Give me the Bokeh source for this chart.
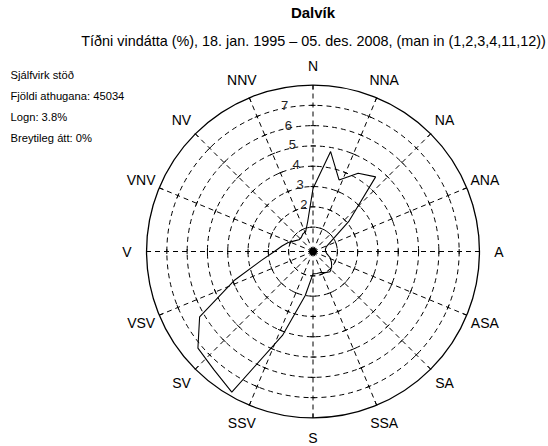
import numpy as np
from bokeh.plotting import figure
from bokeh.models import Range1d, Label
from bokeh.embed import file_html
from bokeh.resources import INLINE

# ---- data ----
directions_deg = [i * 10 for i in range(36)]
freq_pct = [2.9, 4.8, 3.55, 4.25, 4.6, 2.1, 0.85, 0.5, 0.42, 0.42, 0.5, 0.7,
            0.85, 1.0, 1.1, 1.0, 0.9, 0.9, 0.9, 2.0, 4.2, 7.8, 7.4, 7.2,
            6.25, 3.9, 2.4, 1.7, 1.35, 1.1, 0.85, 0.7, 0.7, 0.8, 0.85, 1.3]
compass_labels = ["N", "NNA", "NA", "ANA", "A", "ASA", "SA", "SSA",
                  "S", "SSV", "SV", "VSV", "V", "VNV", "NV", "NNV"]
ring_values = [1, 2, 3, 4, 5, 6, 7]
ring_labels = ["", "2", "3", "4", "5", "6", "7"]
outer_value = 8
title_text = "Dalvík"
subtitle_text = "Tíðni vindátta (%), 18. jan. 1995 – 05. des. 2008, (man in (1,2,3,4,11,12))"
info_lines = ["Sjálfvirk stöð", "Fjöldi athugana: 45034", "Logn: 3.8%", "Breytileg átt: 0%"]

# ---- layout ----
W, H = 548, 446
K = 20.3          # pixels per percent
OFF = 0.2         # inner offset (calm circle) in percent units
CX, CY = 312.5, 251.0   # centre in figure pixels (from top-left)
FONT = "Liberation Sans"

p = figure(width=W, height=H, output_backend="svg", toolbar_location=None,
           x_range=Range1d(-CX / K, (W - CX) / K),
           y_range=Range1d(-(H - CY) / K, CY / K),
           min_border=0)
p.axis.visible = False
p.grid.visible = False
p.outline_line_color = None
p.background_fill_color = "white"
p.border_fill_color = "white"

def polar(v, deg):
    t = np.deg2rad(np.asarray(deg, dtype=float))
    r = OFF + np.asarray(v, dtype=float)
    return r * np.sin(t), r * np.cos(t)

spoke_deg = np.arange(16) * 22.5
R_out = OFF + outer_value

# dashed spokes
sx, sy = polar(np.full(16, outer_value), spoke_deg)
p.segment(x0=np.zeros(16), y0=np.zeros(16), x1=sx, y1=sy,
          line_color="black", line_width=1, line_dash="5 4")

# dashed rings
p.circle(x=np.zeros(len(ring_values)), y=np.zeros(len(ring_values)),
         radius=OFF + np.array(ring_values, dtype=float),
         fill_color=None, line_color="black", line_width=1, line_dash="5 4")

# small ticks on the spokes at each ring
tl = 2.5 / K
tx0, ty0, tx1, ty1 = [], [], [], []
for d in spoke_deg:
    t = np.deg2rad(d)
    for v in ring_values:
        r = OFF + v
        x, y = r * np.sin(t), r * np.cos(t)
        px, py = np.cos(t), -np.sin(t)
        tx0.append(x - tl * px); ty0.append(y - tl * py)
        tx1.append(x + tl * px); ty1.append(y + tl * py)
p.segment(x0=tx0, y0=ty0, x1=tx1, y1=ty1, line_color="black", line_width=1)

# outer circle and its ticks
p.circle(x=[0], y=[0], radius=R_out, fill_color=None, line_color="black", line_width=1.3)
ix, iy = polar(np.full(16, outer_value - 4.5 / K), spoke_deg)
p.segment(x0=ix, y0=iy, x1=sx, y1=sy, line_color="black", line_width=1)

# centre dot
p.scatter(x=[0], y=[0], size=7, marker="circle", fill_color="black", line_color="black")

# data polygon
xs, ys = polar(freq_pct, directions_deg)
xs = list(xs) + [xs[0]]
ys = list(ys) + [ys[0]]
p.line(xs, ys, line_color="black", line_width=1.1)

# ring labels
lx, ly = polar(np.array(ring_values) + 3.0 / K, np.full(len(ring_values), 349.0))
p.text(x=lx, y=ly, text=ring_labels, text_align="center", text_baseline="middle",
       text_font={"value": FONT}, text_font_size="13px", text_color="#222222")

# compass labels
LR = 186.0 / K - OFF
cx_, cy_ = polar(np.full(16, LR), spoke_deg)
p.text(x=cx_, y=cy_, text=compass_labels, text_align="center", text_baseline="middle",
       text_font={"value": FONT}, text_font_size="14px", text_color="black")

# titles and info text (screen units, y from bottom)
p.add_layout(Label(x=CX, y=H - 12, x_units="screen", y_units="screen", text=title_text,
                   text_align="center", text_baseline="middle", text_font=FONT,
                   text_font_size="15px", text_font_style="bold", text_color="black"))
p.add_layout(Label(x=313, y=H - 40, x_units="screen", y_units="screen", text=subtitle_text,
                   text_align="center", text_baseline="middle", text_font=FONT,
                   text_font_size="14.4px", text_color="black"))
for i, line in enumerate(info_lines):
    p.add_layout(Label(x=10, y=H - 74 - i * 21, x_units="screen", y_units="screen", text=line,
                       text_align="left", text_baseline="middle", text_font=FONT,
                       text_font_size="11.2px", text_color="black"))

open("out.html", "w").write(file_html(p, INLINE))
